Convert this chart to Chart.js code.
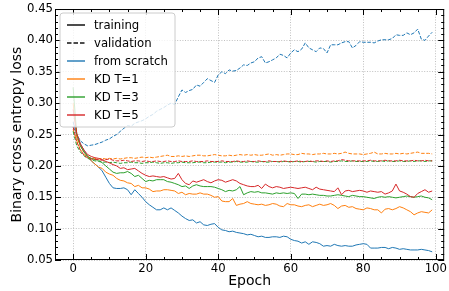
<!DOCTYPE html>
<html>
<head>
<meta charset="utf-8">
<script src="https://cdn.jsdelivr.net/npm/chart.js@4.4.0/dist/chart.umd.min.js"></script>
<style>
  html, body { margin: 0; padding: 0; background: #fff; }
</style>
</head>
<body>
<canvas id="lossChart" width="449" height="291"></canvas>
<script>
// epochs 0..99
const epochs = [
  0,1,2,3,4,5,6,7,8,9,10,11,12,13,14,15,16,17,18,19,
  20,21,22,23,24,25,26,27,28,29,30,31,32,33,34,35,36,37,38,39,
  40,41,42,43,44,45,46,47,48,49,50,51,52,53,54,55,56,57,58,59,
  60,61,62,63,64,65,66,67,68,69,70,71,72,73,74,75,76,77,78,79,
  80,81,82,83,84,85,86,87,88,89,90,91,92,93,94,95,96,97,98,99
];

const scratchTrain = [
  0.270,0.250,0.235,0.225,0.215,0.208,0.203,0.198,0.192,0.182,
  0.172,0.165,0.164,0.164,0.165,0.162,0.154,0.162,0.156,0.150,
  0.143,0.138,0.134,0.130,0.130,0.133,0.130,0.133,0.129,0.125,
  0.120,0.116,0.113,0.114,0.109,0.111,0.106,0.105,0.107,0.108,
  0.102,0.098,0.097,0.095,0.096,0.094,0.093,0.092,0.090,0.091,
  0.089,0.087,0.088,0.086,0.086,0.087,0.087,0.086,0.088,0.087,
  0.083,0.081,0.080,0.077,0.079,0.075,0.079,0.078,0.076,0.072,
  0.073,0.072,0.075,0.073,0.072,0.073,0.072,0.072,0.074,0.075,
  0.076,0.075,0.069,0.069,0.069,0.070,0.070,0.068,0.070,0.069,
  0.067,0.068,0.067,0.066,0.066,0.066,0.067,0.066,0.065,0.063
];
const scratchVal = [
  0.262,0.250,0.240,0.235,0.232,0.233,0.234,0.236,0.238,0.241,
  0.243,0.247,0.250,0.255,0.260,0.264,0.263,0.268,0.270,0.272,
  0.275,0.279,0.282,0.287,0.290,0.293,0.297,0.300,0.298,0.310,
  0.321,0.317,0.320,0.322,0.329,0.327,0.333,0.339,0.336,0.333,
  0.345,0.350,0.347,0.353,0.351,0.352,0.356,0.361,0.360,0.364,
  0.366,0.372,0.374,0.364,0.366,0.369,0.372,0.378,0.376,0.372,
  0.380,0.385,0.382,0.386,0.396,0.388,0.385,0.382,0.388,0.387,
  0.380,0.393,0.393,0.393,0.396,0.398,0.398,0.388,0.392,0.398,
  0.397,0.397,0.397,0.396,0.399,0.401,0.401,0.401,0.403,0.409,
  0.408,0.408,0.412,0.409,0.412,0.418,0.402,0.400,0.407,0.413
];
const kd1Train = [
  0.300,0.245,0.232,0.222,0.215,0.208,0.203,0.198,0.196,0.190,
  0.187,0.185,0.180,0.177,0.176,0.173,0.172,0.167,0.169,0.165,
  0.165,0.163,0.159,0.160,0.160,0.162,0.162,0.161,0.160,0.156,
  0.158,0.154,0.156,0.155,0.155,0.157,0.155,0.155,0.153,0.150,
  0.151,0.144,0.143,0.143,0.148,0.137,0.139,0.140,0.143,0.140,
  0.139,0.138,0.139,0.137,0.138,0.140,0.139,0.136,0.135,0.140,
  0.138,0.138,0.136,0.135,0.137,0.138,0.135,0.137,0.139,0.137,
  0.138,0.140,0.137,0.132,0.136,0.137,0.134,0.135,0.132,0.131,
  0.130,0.133,0.132,0.130,0.130,0.125,0.131,0.132,0.130,0.132,
  0.135,0.133,0.130,0.127,0.122,0.125,0.127,0.126,0.125,0.130
];
const kd1Val = [
  0.258,0.240,0.226,0.218,0.214,0.212,0.212,0.211,0.212,0.211,
  0.212,0.211,0.212,0.211,0.212,0.213,0.213,0.212,0.213,0.214,
  0.213,0.214,0.213,0.214,0.215,0.216,0.217,0.215,0.215,0.216,
  0.215,0.216,0.215,0.216,0.217,0.217,0.216,0.216,0.217,0.218,
  0.217,0.216,0.216,0.217,0.216,0.217,0.218,0.217,0.218,0.217,
  0.218,0.217,0.217,0.218,0.219,0.217,0.218,0.217,0.218,0.219,
  0.219,0.218,0.218,0.220,0.219,0.219,0.218,0.219,0.219,0.220,
  0.219,0.219,0.220,0.219,0.220,0.222,0.220,0.219,0.219,0.219,
  0.218,0.219,0.220,0.222,0.219,0.219,0.220,0.219,0.219,0.220,
  0.219,0.220,0.219,0.220,0.221,0.222,0.220,0.220,0.220,0.219
];
const kd3Train = [
  0.325,0.250,0.232,0.222,0.215,0.212,0.210,0.209,0.205,0.200,
  0.195,0.190,0.188,0.189,0.189,0.191,0.188,0.183,0.185,0.180,
  0.175,0.177,0.176,0.178,0.178,0.178,0.175,0.174,0.172,0.170,
  0.167,0.168,0.164,0.168,0.170,0.168,0.167,0.167,0.167,0.166,
  0.164,0.162,0.159,0.161,0.160,0.162,0.167,0.154,0.157,0.159,
  0.158,0.159,0.157,0.157,0.156,0.155,0.157,0.156,0.157,0.156,
  0.157,0.156,0.148,0.155,0.155,0.154,0.155,0.154,0.153,0.153,
  0.152,0.152,0.153,0.154,0.153,0.152,0.151,0.153,0.152,0.151,
  0.151,0.150,0.149,0.148,0.150,0.151,0.150,0.151,0.150,0.149,
  0.150,0.151,0.152,0.151,0.150,0.151,0.152,0.150,0.149,0.146
];
const kd3Val = [
  0.255,0.232,0.222,0.216,0.212,0.210,0.208,0.207,0.206,0.206,
  0.205,0.206,0.205,0.204,0.205,0.205,0.206,0.205,0.205,0.204,
  0.205,0.205,0.206,0.205,0.204,0.205,0.205,0.204,0.205,0.205,
  0.206,0.205,0.205,0.205,0.206,0.206,0.205,0.205,0.206,0.206,
  0.206,0.206,0.205,0.206,0.206,0.207,0.206,0.206,0.206,0.207,
  0.206,0.206,0.207,0.206,0.206,0.207,0.207,0.206,0.207,0.207,
  0.206,0.207,0.207,0.206,0.207,0.207,0.207,0.206,0.207,0.207,
  0.207,0.206,0.207,0.207,0.208,0.207,0.207,0.208,0.207,0.207,
  0.207,0.207,0.208,0.207,0.207,0.208,0.207,0.208,0.207,0.207,
  0.208,0.207,0.207,0.208,0.207,0.208,0.208,0.207,0.208,0.208
];
const kd5Train = [
  0.290,0.252,0.235,0.225,0.218,0.215,0.213,0.212,0.210,0.207,
  0.205,0.202,0.200,0.196,0.197,0.194,0.195,0.196,0.192,0.188,
  0.185,0.183,0.184,0.183,0.182,0.183,0.181,0.179,0.180,0.188,
  0.178,0.172,0.170,0.176,0.174,0.176,0.178,0.175,0.173,0.176,
  0.178,0.177,0.174,0.176,0.178,0.176,0.172,0.170,0.168,0.167,
  0.167,0.169,0.164,0.171,0.167,0.165,0.167,0.166,0.164,0.165,
  0.166,0.165,0.164,0.165,0.166,0.164,0.162,0.166,0.163,0.162,
  0.161,0.160,0.159,0.165,0.154,0.160,0.161,0.159,0.160,0.161,
  0.160,0.158,0.160,0.159,0.158,0.159,0.155,0.157,0.160,0.171,
  0.160,0.158,0.155,0.151,0.150,0.156,0.159,0.162,0.158,0.160
];
const kd5Val = [
  0.262,0.238,0.225,0.217,0.213,0.211,0.210,0.210,0.209,0.210,
  0.211,0.209,0.208,0.208,0.209,0.208,0.207,0.208,0.208,0.207,
  0.208,0.207,0.207,0.208,0.207,0.207,0.208,0.207,0.207,0.208,
  0.207,0.207,0.207,0.208,0.207,0.207,0.207,0.208,0.207,0.207,
  0.207,0.208,0.207,0.207,0.207,0.208,0.207,0.207,0.208,0.207,
  0.207,0.208,0.207,0.207,0.208,0.207,0.207,0.207,0.208,0.207,
  0.207,0.207,0.208,0.207,0.207,0.208,0.207,0.208,0.208,0.207,
  0.208,0.207,0.208,0.208,0.210,0.209,0.208,0.208,0.208,0.208,
  0.208,0.208,0.209,0.208,0.208,0.208,0.209,0.208,0.208,0.208,
  0.209,0.208,0.208,0.208,0.209,0.208,0.208,0.209,0.208,0.208
];

const xTicks = [0, 20, 40, 60, 80, 100];
const yTicks = [0.05, 0.10, 0.15, 0.20, 0.25, 0.30, 0.35, 0.40, 0.45];
const legendLabels = ['training', 'validation', 'from scratch', 'KD T=1', 'KD T=3', 'KD T=5'];

const BLUE = '#1f77b4', ORANGE = '#ff7f0e', GREEN = '#2ca02c', RED = '#d62728';
const FONT = "'DejaVu Sans', sans-serif";
const DASH = [3.7, 1.6];

function series(values, color, dashed, order) {
    return {
        data: values.map((v, i) => ({ x: epochs[i], y: v })),
        borderColor: color,
        borderWidth: 1,
        borderDash: dashed ? DASH : [],
        pointRadius: 0,
        tension: 0,
        fill: false,
        order: order
    };
}

// spines + inward ticks on all four sides, then the legend box
const framePlugin = {
    id: 'frame',
    afterDraw(chart) {
        const { ctx, chartArea: a, scales: { x, y } } = chart;
        ctx.save();
        ctx.strokeStyle = '#000';
        ctx.lineWidth = 1;

        const xMinor = [], yMinor = [];
        for (let v = 5; v < x.max; v += 5) if (v % 20 !== 0) xMinor.push(v);
        for (let k = 6; k < 45; k++) if (k % 5 !== 0) yMinor.push(k / 100);

        ctx.beginPath();
        const xt = (vals, len) => vals.forEach(v => {
            const px = Math.round(x.getPixelForValue(v)) + 0.5;
            ctx.moveTo(px, a.bottom); ctx.lineTo(px, a.bottom - len);
            ctx.moveTo(px, a.top); ctx.lineTo(px, a.top + len);
        });
        const yt = (vals, len) => vals.forEach(v => {
            const py = Math.round(y.getPixelForValue(v)) + 0.5;
            ctx.moveTo(a.left, py); ctx.lineTo(a.left + len, py);
            ctx.moveTo(a.right, py); ctx.lineTo(a.right - len, py);
        });
        xt(xTicks, 6); xt(xMinor, 3);
        yt(yTicks, 6); yt(yMinor, 3);
        ctx.stroke();
        ctx.strokeRect(a.left + 0.5, a.top + 0.5, a.right - a.left - 1, a.bottom - a.top - 1);

        // legend
        const bx = 60, by = 13, bw = 115, bh = 114, r = 3;
        ctx.beginPath();
        ctx.moveTo(bx + r, by);
        ctx.arcTo(bx + bw, by, bx + bw, by + bh, r);
        ctx.arcTo(bx + bw, by + bh, bx, by + bh, r);
        ctx.arcTo(bx, by + bh, bx, by, r);
        ctx.arcTo(bx, by, bx + bw, by, r);
        ctx.closePath();
        ctx.fillStyle = 'rgba(255,255,255,0.8)';
        ctx.fill();
        ctx.strokeStyle = '#cccccc';
        ctx.lineWidth = 1;
        ctx.stroke();

        const colors = ['#000', '#000', BLUE, ORANGE, GREEN, RED];
        ctx.font = '11.7px ' + FONT;
        ctx.textBaseline = 'middle';
        ctx.textAlign = 'left';
        legendLabels.forEach((lab, i) => {
            const cy = 25 + i * 18;
            ctx.save();
            ctx.globalAlpha = 0.7;
            ctx.strokeStyle = colors[i];
            ctx.lineWidth = 2;
            ctx.setLineDash(i === 1 ? [4.5, 2] : []);
            ctx.beginPath();
            ctx.moveTo(67, cy); ctx.lineTo(85, cy);
            ctx.stroke();
            ctx.restore();
            ctx.fillStyle = '#000';
            ctx.fillText(lab, 94, cy + 0.5);
        });
        ctx.restore();
    }
};

const lossChart = new Chart(document.getElementById('lossChart').getContext('2d'), {
    type: 'line',
    data: {
        datasets: [
            series(scratchTrain, BLUE, false, 8),
            series(scratchVal, BLUE, true, 7),
            series(kd1Train, ORANGE, false, 6),
            series(kd1Val, ORANGE, true, 5),
            series(kd3Train, GREEN, false, 4),
            series(kd3Val, GREEN, true, 3),
            series(kd5Train, RED, false, 2),
            series(kd5Val, RED, true, 1)
        ]
    },
    options: {
        responsive: false,
        animation: false,
        devicePixelRatio: 1,
        layout: { padding: { top: 9, right: 0.5, left: 0, bottom: 0 } },
        plugins: { legend: { display: false }, tooltip: { enabled: false } },
        scales: {
            x: {
                type: 'linear',
                min: -5,
                max: 102.3,
                afterBuildTicks: s => { s.ticks = xTicks.map(v => ({ value: v })); },
                afterFit: s => { s.height = 31; },
                ticks: {
                    color: '#000',
                    font: { family: FONT, size: 11.7 },
                    padding: 2,
                    maxRotation: 0,
                    callback: v => String(v)
                },
                grid: { color: '#b0b0b0', lineWidth: 0.8, drawTicks: false },
                border: { display: false, dash: [1, 1.6] },
                title: {
                    display: true,
                    text: 'Epoch',
                    color: '#000',
                    font: { family: FONT, size: 14, lineHeight: 1.2 },
                    padding: { top: 0, bottom: 1 }
                }
            },
            y: {
                type: 'linear',
                min: 0.05,
                max: 0.45,
                afterBuildTicks: s => { s.ticks = yTicks.map(v => ({ value: v })); },
                afterFit: s => { s.width = 55; },
                ticks: {
                    color: '#000',
                    font: { family: FONT, size: 11.7 },
                    padding: 2,
                    callback: v => v.toFixed(2)
                },
                grid: { color: '#b0b0b0', lineWidth: 0.8, drawTicks: false },
                border: { display: false, dash: [1, 1.6] },
                title: {
                    display: true,
                    text: 'Binary cross entropy loss',
                    color: '#000',
                    font: { family: FONT, size: 14, lineHeight: 1.2 },
                    padding: { top: 9, bottom: 0 }
                }
            }
        }
    },
    plugins: [framePlugin]
});
</script>
</body>
</html>
